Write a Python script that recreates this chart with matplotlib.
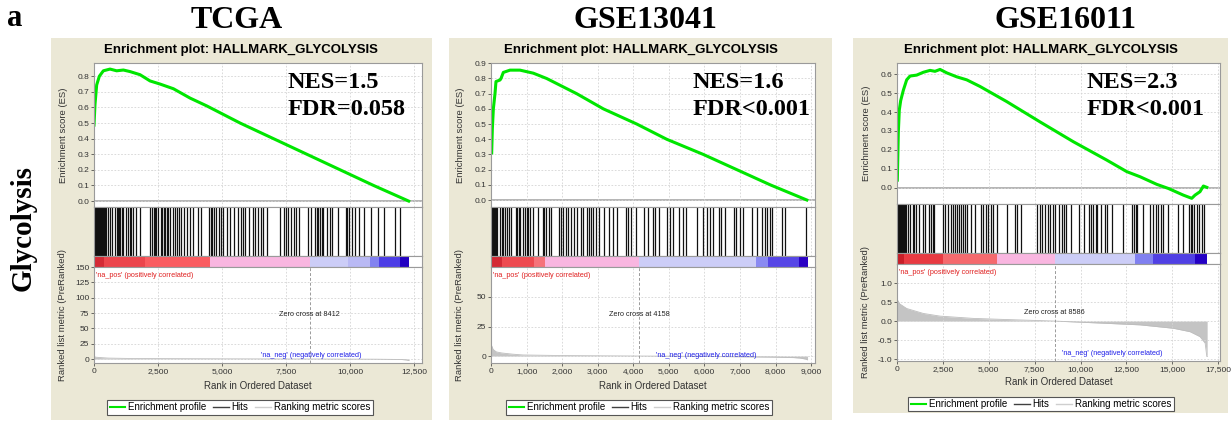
import numpy as np
import matplotlib.pyplot as plt
from matplotlib.lines import Line2D
from matplotlib.patches import Rectangle
from matplotlib.ticker import FuncFormatter

# ---------------- values ----------------
cohorts = ['TCGA', 'GSE13041', 'GSE16011']
nes = ['1.5', '1.6', '2.3']
fdr = ['=0.058', '<0.001', '<0.001']
zero_cross = [8412, 4158, 8586]

# running enrichment score
tcga_es_rank = [0, 39, 104, 208, 365, 625, 885, 1146, 1406, 1797, 2187, 2578,
                3099, 3750, 4400, 5703, 7005, 8307, 9609, 10911, 12279]
tcga_es = [0.487, 0.62, 0.744, 0.80, 0.835, 0.846, 0.835, 0.84, 0.83, 0.81, 0.77,
           0.75, 0.72, 0.66, 0.61, 0.50, 0.40, 0.30, 0.20, 0.10, 0.0]

gse13041_es_rank = [19, 38, 66, 112, 140, 253, 281, 347, 534, 815, 1190, 1565,
                    2410, 3160, 4100, 4940, 5970, 6910, 7850, 8880]
gse13041_es = [0.31, 0.47, 0.60, 0.70, 0.78, 0.79, 0.80, 0.84, 0.855, 0.855, 0.835,
               0.80, 0.70, 0.60, 0.50, 0.40, 0.30, 0.20, 0.10, 0.0]

gse16011_es_rank = [18, 71, 125, 200, 345, 527, 709, 1072, 1436, 1800, 2070, 2345,
                    2708, 3253, 3800, 4525, 5980, 7790, 9610, 11430, 12520, 13245,
                    14150, 14790, 15600, 16060, 16240, 16510, 16695, 16880]
gse16011_es = [0.04, 0.29, 0.41, 0.46, 0.515, 0.57, 0.59, 0.595, 0.61, 0.62, 0.615,
               0.625, 0.607, 0.586, 0.57, 0.535, 0.455, 0.348, 0.243, 0.146, 0.085,
               0.058, 0.018, -0.004, -0.039, -0.056, -0.039, -0.021, 0.009, 0.002]

# positions of gene set members in the ranked list
tcga_hits = [40, 70, 100, 130, 160, 190, 220, 250, 280, 310, 340, 370, 390, 440, 480,
             560, 610, 700, 830, 880, 930, 980, 1030, 1080, 1130, 1260, 1320, 1390,
             1450, 1530, 1640, 1800, 2200, 2250, 2330, 2380, 2430, 2490, 2600, 2660,
             2720, 2780, 2840, 2890, 2980, 3080, 3170, 3240, 3310, 3400, 3520, 3630,
             3740, 3850, 4050, 4170, 4480, 4550, 4620, 4680, 4760, 4870, 4950, 5050,
             5200, 5290, 5480, 5610, 5720, 5800, 5880, 6060, 6190, 6300, 6400, 6500,
             6600, 6740, 7260, 7400, 7500, 7580, 7680, 7800, 7900, 8010, 8340, 8470,
             8640, 8700, 8760, 8830, 8900, 8950, 9100, 9200, 9270, 9540, 9820, 9880,
             9960, 10050, 10180, 10350, 10550, 10810, 11070, 11300, 11740, 11950]
gse13041_hits = [30, 60, 90, 120, 150, 170, 250, 300, 350, 400, 440, 500, 570, 690,
                 740, 790, 820, 910, 960, 1000, 1050, 1110, 1190, 1330, 1450, 1490,
                 1560, 1620, 1680, 1910, 1970, 2030, 2100, 2170, 2240, 2330, 2430,
                 2520, 2600, 2700, 2750, 2810, 2860, 2940, 3050, 3190, 3330, 3430,
                 3550, 3790, 3860, 3940, 4090, 4300, 4410, 4550, 4600, 4730, 4950,
                 5020, 5110, 5300, 5390, 5480, 5800, 5950, 6070, 6170, 6240, 6400,
                 6480, 6590, 6830, 6900, 6990, 7080, 7350, 7470, 7630, 7700, 7760,
                 7840, 7900, 8190, 8260, 8870]
gse16011_hits = [20, 60, 100, 150, 200, 250, 300, 350, 400, 450, 500, 610, 700, 850,
                 950, 1040, 1180, 1430, 1540, 1760, 1850, 1950, 2030, 2530, 2640, 2800,
                 2940, 3060, 3150, 3250, 3400, 3500, 3590, 3720, 3800, 4040, 4270,
                 4560, 4680, 4850, 4940, 5100, 5210, 5450, 6000, 6450, 6520, 6730,
                 7630, 7800, 7900, 8040, 8250, 8340, 8510, 8630, 8820, 9000, 9100,
                 9220, 9470, 9900, 10200, 10450, 10560, 10680, 10820, 10920, 11100,
                 11320, 11450, 11740, 12290, 12800, 12900, 13000, 13100, 13420, 13800,
                 13950, 14100, 14220, 14400, 14500, 14750, 15290, 15560, 15900, 16000,
                 16100, 16200, 16350, 16440, 16620, 16730]

# ranked list metric
tcga_metric_rank = [0, 60, 200, 550, 1500, 5000, 8412, 11000, 12000, 12200, 12290]
tcga_metric = [4.5, 3.0, 2.5, 1.5, 0.8, 0.3, 0.0, -0.3, -0.8, -1.5, -2.5]
gse13041_metric_rank = [0, 20, 60, 150, 300, 600, 900, 2000, 4158, 6000, 7940, 8500,
                        8690, 8850, 8900]
gse13041_metric = [9.5, 8.6, 5.5, 3.5, 2.6, 1.6, 0.9, 0.4, 0.0, -0.3, -0.9, -1.3,
                   -1.7, -2.6, -3.2]
gse16011_metric_rank = [0, 30, 150, 527, 1436, 2345, 4160, 5980, 8586, 11430, 13245,
                        15060, 15970, 16510, 16790, 16880, 16900]
gse16011_metric = [0.65, 0.55, 0.45, 0.33, 0.2, 0.13, 0.07, 0.04, 0.0, -0.06, -0.1,
                   -0.19, -0.28, -0.41, -0.58, -0.93, -0.93]

# heat bar segments (rank edges) and their colours
tcga_bar_edges = [0, 400, 2000, 4530, 8412, 9900, 10755, 11110, 11950, 12300]
gse13041_bar_edges = [0, 300, 1200, 1530, 4158, 7455, 7800, 8670, 8920]
gse16011_bar_edges = [0, 400, 2500, 5450, 8586, 12970, 13970, 16240, 16910]
tcga_bar_colors = ['#d42a35', '#ec454c', '#fa5c60', '#f9b6e0', '#cccdf7', '#b9b9f4',
                   '#8282f0', '#4c3de6', '#2200c2']
gse13041_bar_colors = ['#d42a35', '#ee4a50', '#f6737a', '#f9b6e0', '#cccdf7', '#8a8af2',
                       '#5646e6', '#2a00c4']
gse16011_bar_colors = ['#c81e28', '#e83a42', '#f56a6e', '#f9b6e0', '#cccdf7', '#8080f0',
                       '#5040e4', '#2400c4']

es_rank = [tcga_es_rank, gse13041_es_rank, gse16011_es_rank]
es_vals = [tcga_es, gse13041_es, gse16011_es]
hits = [tcga_hits, gse13041_hits, gse16011_hits]
met_rank = [tcga_metric_rank, gse13041_metric_rank, gse16011_metric_rank]
met_vals = [tcga_metric, gse13041_metric, gse16011_metric]
bar_edges = [tcga_bar_edges, gse13041_bar_edges, gse16011_bar_edges]
bar_colors = [tcga_bar_colors, gse13041_bar_colors, gse16011_bar_colors]

# ---------------- layout (pixels of the 1231x421 picture) ----------------
W, H = 1231, 421
layout = [
    dict(bg=(51, 38, 432, 420), x=(94, 422), es=(63, 207), hit=(207, 256), bar=(256, 267),
         met=(267, 363), xmax=12800, head_x=237, sub_x=241, nes_x=288, xlab_y=386,
         leg=(240, 407.5), es_ylim=(-0.038, 0.885), es_ticks=np.arange(0, 0.81, 0.1),
         met_ylim=(-6.5, 150), met_ticks=[0, 25, 50, 75, 100, 125, 150],
         xticks=np.arange(0, 12501, 2500), yfmt='{:.0f}'),
    dict(bg=(449, 38, 832, 420), x=(491, 815), es=(63, 207), hit=(207, 256), bar=(256, 267),
         met=(267, 363), xmax=9110, head_x=645, sub_x=641, nes_x=693, xlab_y=386,
         leg=(639, 407.5), es_ylim=(-0.046, 0.902), es_ticks=np.arange(0, 0.91, 0.1),
         met_ylim=(-5.9, 75.4), met_ticks=[0, 25, 50],
         xticks=np.arange(0, 9001, 1000), yfmt='{:.0f}'),
    dict(bg=(853, 38, 1228, 413), x=(897, 1220), es=(63, 204), hit=(204, 253), bar=(253, 264),
         met=(264, 361), xmax=17600, head_x=1066, sub_x=1041, nes_x=1087, xlab_y=382,
         leg=(1041, 404), es_ylim=(-0.086, 0.659), es_ticks=np.arange(0, 0.61, 0.1),
         met_ylim=(-1.05, 1.5), met_ticks=[-1.0, -0.5, 0.0, 0.5, 1.0],
         xticks=np.arange(0, 17501, 2500), yfmt='{:.1f}'),
]

sans = 'Liberation Sans'
serif = 'Liberation Serif'
bg_col = '#ebe8d6'
grid_kw = dict(color='#d4d4d4', linestyle=(0, (2, 2)), linewidth=0.6)

fig = plt.figure(figsize=(W / 100, H / 100), dpi=100)


def add_ax(l, t, r, b):
    return fig.add_axes([l / W, 1 - b / H, (r - l) / W, (b - t) / H])


def style(ax):
    for s in ax.spines.values():
        s.set_color('#9a9a9a')
        s.set_linewidth(0.8)
    ax.tick_params(labelsize=6, colors='#333333', length=2, width=0.5, pad=1.5)
    for lab in ax.get_xticklabels() + ax.get_yticklabels():
        lab.set_fontfamily(sans)


for i, L in enumerate(layout):
    l, t, r, b = L['bg']
    fig.patches.append(Rectangle((l / W, 1 - b / H), (r - l) / W, (b - t) / H,
                                 transform=fig.transFigure, facecolor=bg_col,
                                 edgecolor='none', zorder=-10))
    x0, x1 = L['x']
    width_px = x1 - x0

    fig.text(L['head_x'] / W, 1 - 21 / H, cohorts[i], ha='center', va='center',
             fontsize=23, fontweight='bold', family=serif)
    fig.text(L['sub_x'] / W, 1 - 50 / H, 'Enrichment plot: HALLMARK_GLYCOLYSIS',
             ha='center', va='center', fontsize=9.5, fontweight='bold', family=sans)

    # enrichment score
    ax = add_ax(x0, L['es'][0], x1, L['es'][1])
    ax.plot(es_rank[i], es_vals[i], color='#00e600', lw=2.2, solid_joinstyle='round')
    ax.axhline(0, color='#a8a8a8', lw=1.2, zorder=0)
    ax.set_xlim(0, L['xmax'])
    ax.set_ylim(*L['es_ylim'])
    ax.set_yticks(L['es_ticks'])
    ax.yaxis.set_major_formatter(FuncFormatter(lambda v, p: '{:.1f}'.format(v)))
    ax.set_xticks(L['xticks'])
    ax.tick_params(axis='x', length=0, labelbottom=False)
    ax.grid(True, **grid_kw)
    style(ax)
    ax.set_ylabel('Enrichment score (ES)', fontsize=6.8, family=sans, color='#333333')
    ax.yaxis.set_label_coords(-26 / width_px, 0.5)
    ax.text(L['nes_x'] / W, 1 - 88 / H, 'NES=' + nes[i], transform=fig.transFigure,
            fontsize=17.5, fontweight='bold', family=serif, va='baseline')
    ax.text(L['nes_x'] / W, 1 - 115 / H, 'FDR' + fdr[i], transform=fig.transFigure,
            fontsize=17.5, fontweight='bold', family=serif, va='baseline')

    # hits
    ax = add_ax(x0, L['hit'][0], x1, L['hit'][1])
    ax.vlines(hits[i], 0, 1, color='#111111', lw=0.9)
    ax.set_xlim(0, L['xmax'])
    ax.set_ylim(0, 1)
    ax.set_xticks(L['xticks'])
    ax.set_yticks([])
    ax.tick_params(axis='x', length=0, labelbottom=False)
    ax.grid(True, axis='x', **grid_kw)
    ax.set_axisbelow(True)
    style(ax)

    # heat bar
    ax = add_ax(x0, L['bar'][0], x1, L['bar'][1])
    edges = bar_edges[i]
    for k in range(len(edges) - 1):
        ax.axvspan(edges[k], edges[k + 1], color=bar_colors[i][k], lw=0)
    ax.set_xlim(0, L['xmax'])
    ax.set_ylim(0, 1)
    ax.set_xticks([])
    ax.set_yticks([])
    style(ax)

    # ranked list metric
    ax = add_ax(x0, L['met'][0], x1, L['met'][1])
    ax.fill_between(met_rank[i], met_vals[i], 0, color='#c4c4c4', lw=0)
    ax.plot(met_rank[i], met_vals[i], color='#bdbdbd', lw=0.6)
    ax.axvline(zero_cross[i], color='#9a9a9a', lw=0.7, ls=(0, (3, 2)))
    ax.set_xlim(0, L['xmax'])
    ax.set_ylim(*L['met_ylim'])
    ax.set_yticks(L['met_ticks'])
    fmt = L['yfmt']
    ax.yaxis.set_major_formatter(FuncFormatter(lambda v, p, f=fmt: f.format(v)))
    ax.set_xticks(L['xticks'])
    ax.xaxis.set_major_formatter(FuncFormatter(lambda v, p: '{:,.0f}'.format(v)))
    ax.grid(True, **grid_kw)
    style(ax)
    ax.set_ylabel('Ranked list metric (PreRanked)', fontsize=6.8, family=sans,
                  color='#333333')
    ax.yaxis.set_label_coords(-27 / width_px, 0.5)
    ax.text(0.006, 0.95, "'na_pos' (positively correlated)", transform=ax.transAxes,
            fontsize=5.2, color='#e02020', family=sans, va='top')
    ax.text(0.51, 0.04, "'na_neg' (negatively correlated)", transform=ax.transAxes,
            fontsize=5.2, color='#2020e8', family=sans, va='bottom')
    ax.text(zero_cross[i], 0.5, 'Zero cross at %d' % zero_cross[i],
            transform=ax.get_xaxis_transform(), fontsize=5.2, ha='center', va='center',
            family=sans, color='#222222')
    fig.text((x0 + x1) / 2 / W, 1 - L['xlab_y'] / H, 'Rank in Ordered Dataset',
             ha='center', va='center', fontsize=7, family=sans, color='#333333')

    handles = [Line2D([], [], color='#00e600', lw=1.5),
               Line2D([], [], color='#404040', lw=1.0),
               Line2D([], [], color='#cfcfcf', lw=1.0)]
    leg = fig.legend(handles, ['Enrichment profile', 'Hits', 'Ranking metric scores'],
                     loc='center', bbox_to_anchor=(L['leg'][0] / W, 1 - L['leg'][1] / H),
                     ncol=3, frameon=True, fancybox=False,
                     edgecolor='#555555', framealpha=1, handlelength=1.6,
                     handletextpad=0.3, columnspacing=0.7, borderpad=0.25,
                     prop={'family': sans, 'size': 7})
    leg.get_frame().set_linewidth(0.8)

fig.text(15 / W, 1 - 19 / H, 'a', ha='center', va='center', fontsize=22,
         fontweight='bold', family=serif)
fig.text(23 / W, 1 - 228 / H, 'Glycolysis', ha='center', va='center', rotation=90,
         fontsize=21, fontweight='bold', family=serif)

fig.savefig('out.png', dpi=100)
